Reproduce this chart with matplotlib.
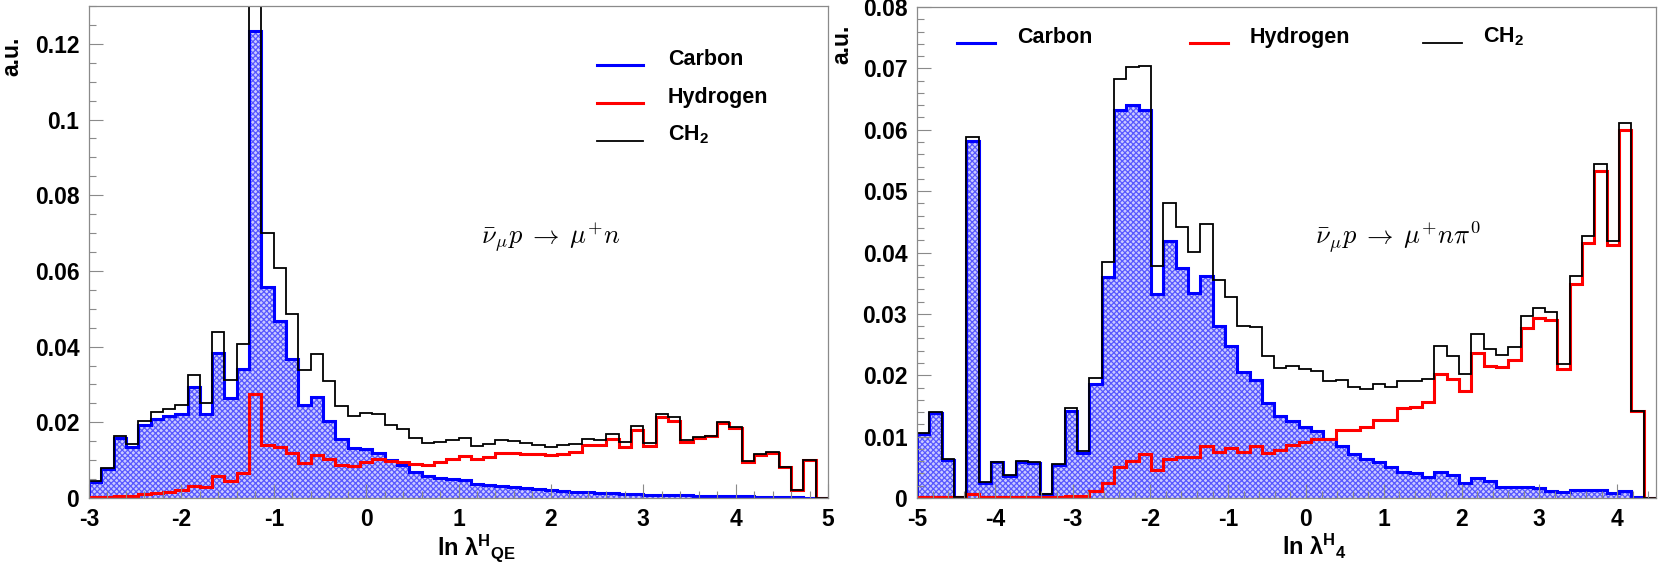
#!/usr/bin/env python3
"""
Carbon / hydrogen / CH2 distributions of ln(lambda^H) for two antineutrino channels.
"""

import matplotlib

matplotlib.use("Agg")
import matplotlib.pyplot as plt
import numpy as np
from matplotlib.ticker import FuncFormatter, MultipleLocator

# left panel: nubar_mu p -> mu+ n, 60 bins on [-3, 5]
QE_RANGE = (-3.0, 5.0)
QE_CARBON = [
    0.0043, 0.0076, 0.0159, 0.0135, 0.0192, 0.0209, 0.0216, 0.0223, 0.0292, 0.0223,
    0.0382, 0.0265, 0.0341, 0.1235, 0.0557, 0.0469, 0.0367, 0.0246, 0.0267, 0.0204,
    0.0156, 0.0133, 0.0130, 0.0118, 0.0100, 0.0087, 0.0068, 0.0057, 0.0052, 0.0049,
    0.0047, 0.0038, 0.0035, 0.0033, 0.0030, 0.0027, 0.0024, 0.0022, 0.0019, 0.0017,
    0.0016, 0.0014, 0.0012, 0.0011, 0.0011, 0.0007, 0.0009, 0.0009, 0.0007, 0.0006,
    0.0006, 0.0005, 0.0005, 0.0004, 0.0003, 0.0003, 0.0002, 0.0002, 0.0001, 0.0,
]
QE_HYDROGEN = [
    0.0002, 0.0002, 0.0005, 0.0006, 0.0011, 0.0014, 0.0017, 0.0021, 0.0033, 0.0028,
    0.0057, 0.0045, 0.0066, 0.0275, 0.0140, 0.0136, 0.0118, 0.0092, 0.0114, 0.0104,
    0.0087, 0.0085, 0.0095, 0.0104, 0.0097, 0.0095, 0.0090, 0.0087, 0.0095, 0.0102,
    0.0112, 0.0104, 0.0109, 0.0118, 0.0118, 0.0117, 0.0116, 0.0114, 0.0116, 0.0121,
    0.0139, 0.0139, 0.0156, 0.0135, 0.0180, 0.0137, 0.0215, 0.0204, 0.0147, 0.0159,
    0.0163, 0.0199, 0.0185, 0.0095, 0.0114, 0.0118, 0.0081, 0.0022, 0.0101, 0.0,
]
QE_CH2 = [
    0.0045, 0.0078, 0.0163, 0.0142, 0.0204, 0.0226, 0.0234, 0.0245, 0.0325, 0.0252,
    0.0438, 0.0311, 0.0408, 0.1510, 0.0700, 0.0607, 0.0485, 0.0339, 0.0381, 0.0308,
    0.0242, 0.0216, 0.0225, 0.0221, 0.0194, 0.0182, 0.0159, 0.0145, 0.0149, 0.0152,
    0.0159, 0.0137, 0.0142, 0.0153, 0.0150, 0.0145, 0.0139, 0.0135, 0.0139, 0.0142,
    0.0156, 0.0153, 0.0168, 0.0147, 0.0190, 0.0145, 0.0223, 0.0215, 0.0152, 0.0161,
    0.0164, 0.0201, 0.0187, 0.0098, 0.0116, 0.0121, 0.0081, 0.0022, 0.0101, 0.0,
]

# right panel: nubar_mu p -> mu+ n pi0, 60 bins on [-5, 4.5]
PI0_RANGE = (-5.0, 4.5)
PI0_CARBON = [
    0.0105, 0.0139, 0.0062, 0.0001, 0.0582, 0.0025, 0.0058, 0.0036, 0.0058, 0.0057,
    0.0006, 0.0053, 0.0141, 0.0074, 0.0185, 0.0360, 0.0632, 0.0641, 0.0632, 0.0332,
    0.0419, 0.0374, 0.0334, 0.0362, 0.0280, 0.0247, 0.0205, 0.0193, 0.0155, 0.0133,
    0.0125, 0.0115, 0.0109, 0.0096, 0.0084, 0.0071, 0.0063, 0.0058, 0.0051, 0.0043,
    0.0041, 0.0035, 0.0042, 0.0037, 0.0025, 0.0032, 0.0028, 0.0018, 0.0018, 0.0018,
    0.0016, 0.0012, 0.0009, 0.0013, 0.0013, 0.0013, 0.0008, 0.0012, 0.0001, 0.0,
]
PI0_HYDROGEN = [
    0.0001, 0.0001, 0.0001, 0.0001, 0.0007, 0.0001, 0.0001, 0.0001, 0.0002, 0.0001,
    0.0001, 0.0002, 0.0004, 0.0003, 0.0012, 0.0025, 0.0051, 0.0061, 0.0071, 0.0045,
    0.0063, 0.0067, 0.0066, 0.0084, 0.0075, 0.0081, 0.0075, 0.0084, 0.0074, 0.0078,
    0.0086, 0.0091, 0.0096, 0.0096, 0.0110, 0.0111, 0.0116, 0.0127, 0.0127, 0.0147,
    0.0149, 0.0156, 0.0202, 0.0194, 0.0174, 0.0236, 0.0215, 0.0213, 0.0225, 0.0277,
    0.0293, 0.0290, 0.0210, 0.0348, 0.0415, 0.0532, 0.0412, 0.0600, 0.0142, 0.0,
]
PI0_CH2 = [
    0.0106, 0.0140, 0.0063, 0.0002, 0.0588, 0.0026, 0.0059, 0.0037, 0.0060, 0.0058,
    0.0007, 0.0055, 0.0146, 0.0077, 0.0196, 0.0384, 0.0682, 0.0703, 0.0704, 0.0378,
    0.0481, 0.0442, 0.0401, 0.0446, 0.0355, 0.0328, 0.0281, 0.0279, 0.0231, 0.0211,
    0.0215, 0.0210, 0.0207, 0.0190, 0.0193, 0.0181, 0.0177, 0.0186, 0.0181, 0.0191,
    0.0190, 0.0194, 0.0247, 0.0232, 0.0202, 0.0267, 0.0243, 0.0233, 0.0246, 0.0297,
    0.0310, 0.0303, 0.0219, 0.0361, 0.0427, 0.0545, 0.0419, 0.0611, 0.0142, 0.0,
]

LABELS = ["Carbon", "Hydrogen", r"CH$_{\mathrm{2}}$"]
COLORS = ["#0000ff", "#ff0000", "#000000"]
WIDTHS = [2.2, 2.2, 1.3]
FRAME = "#8a8a8a"

plt.rcParams["font.family"] = ["Liberation Sans", "DejaVu Sans"]
plt.rcParams["font.weight"] = "bold"
plt.rcParams["axes.unicode_minus"] = False
plt.rcParams["mathtext.fontset"] = "custom"
plt.rcParams["mathtext.rm"] = "Liberation Sans:bold"
plt.rcParams["mathtext.it"] = "Liberation Sans:bold"
plt.rcParams["mathtext.bf"] = "Liberation Sans:bold"
plt.rcParams["hatch.linewidth"] = 0.9


def draw_panel(ax, rng, carbon, hydrogen, ch2, ymax, ymajor, yminor):
    edges = np.linspace(rng[0], rng[1], len(carbon) + 1)
    ax.stairs(carbon, edges, fill=True, facecolor="#cacaff", edgecolor="#5858ff",
              hatch="xxxxxx", linewidth=0)
    for vals, c, lw in zip([carbon, hydrogen, ch2], COLORS, WIDTHS):
        ax.stairs(vals, edges, color=c, linewidth=lw)

    ax.set_xlim(*rng)
    ax.set_ylim(0, ymax)
    ax.xaxis.set_major_locator(MultipleLocator(1))
    ax.xaxis.set_minor_locator(MultipleLocator(0.2))
    ax.yaxis.set_major_locator(MultipleLocator(ymajor))
    ax.yaxis.set_minor_locator(MultipleLocator(yminor))
    ax.yaxis.set_major_formatter(FuncFormatter(lambda v, _: f"{v:g}"))
    ax.xaxis.set_major_formatter(FuncFormatter(lambda v, _: f"{v:g}"))
    ax.tick_params(which="both", direction="in", color=FRAME, width=0.8,
                   top=False, right=False, labelsize=16.5)
    ax.tick_params(which="major", length=10)
    ax.tick_params(which="minor", length=5)
    ax.tick_params(axis="y", pad=7)
    ax.tick_params(axis="x", pad=7)
    for s in ax.spines.values():
        s.set_color(FRAME)
        s.set_linewidth(0.9)


def legend_entry(ax, x0, x1, xt, y, label, color, lw):
    ax.plot([x0, x1], [y, y], color=color, linewidth=lw, transform=ax.transAxes,
            clip_on=False)
    ax.text(xt, y, label, transform=ax.transAxes, fontsize=15.5, fontweight="bold",
            ha="left", va="baseline")


def main() -> None:
    fig = plt.figure(figsize=(16.61, 5.63), dpi=100)
    ax1 = fig.add_axes([89 / 1661, 65 / 563, 739 / 1661, 492 / 563])
    ax2 = fig.add_axes([917 / 1661, 65 / 563, 739 / 1661, 491 / 563])

    draw_panel(ax1, QE_RANGE, QE_CARBON, QE_HYDROGEN, QE_CH2, 0.13, 0.02, 0.005)
    draw_panel(ax2, PI0_RANGE, PI0_CARBON, PI0_HYDROGEN, PI0_CH2, 0.08, 0.01, 0.002)

    # left legend: stacked
    for i, (lab, c, lw) in enumerate(zip(LABELS, COLORS, WIDTHS)):
        legend_entry(ax1, 0.687, 0.750, 0.783, 0.880 - 0.077 * i, lab, c, lw)
    # right legend: one row
    for i, (lab, c, lw) in enumerate(zip(LABELS, COLORS, WIDTHS)):
        x0 = 0.054 + 0.3155 * i
        legend_entry(ax2, x0, x0 + 0.052, x0 + 0.081, 0.927, lab, c, lw)

    ax1.text(0.530, 0.516, r"$\bar{\nu}_{\mu}p\;\rightarrow\;\mu^{+}n$",
             transform=ax1.transAxes, fontsize=19, math_fontfamily="cm",
             ha="left", va="baseline")
    ax2.text(0.539, 0.517, r"$\bar{\nu}_{\mu}p\;\rightarrow\;\mu^{+}n\pi^{0}$",
             transform=ax2.transAxes, fontsize=19, math_fontfamily="cm",
             ha="left", va="baseline")

    fig.text(437 / 1661, 8 / 563, r"ln λ$^{\mathrm{H}}{}_{\mathrm{QE}}$", fontsize=17,
             fontweight="bold", ha="left", va="baseline")
    fig.text(1282 / 1661, 8 / 563, r"ln λ$^{\mathrm{H}}{}_{\mathrm{4}}$", fontsize=17,
             fontweight="bold", ha="left", va="baseline")
    fig.text(12 / 1661, 1 - 56 / 563, "a.u.", rotation=90, fontsize=16.5,
             fontweight="bold", ha="center", va="center")
    fig.text(842 / 1661, 1 - 44 / 563, "a.u.", rotation=90, fontsize=16.5,
             fontweight="bold", ha="center", va="center")

    fig.savefig("out.png", dpi=100)


if __name__ == "__main__":
    main()
